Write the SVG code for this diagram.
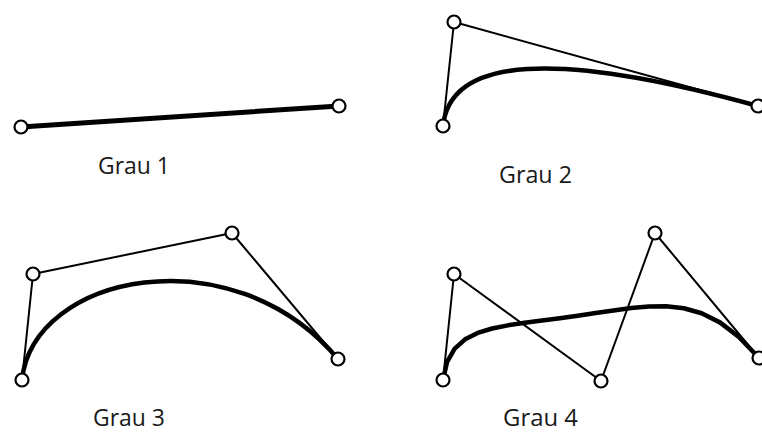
<svg xmlns="http://www.w3.org/2000/svg" width="762" height="432" viewBox="0 0 762 432">
<style>
.bg{fill:#ffffff}
.poly{fill:none;stroke:#000;stroke-width:2;stroke-linejoin:round;stroke-linecap:round}
.curve{fill:none;stroke:#000;stroke-width:4.5;stroke-linejoin:round;stroke-linecap:round}
.pt{fill:#fff;stroke:#000;stroke-width:2.2}
.lbl{font-family:"Open Sans","Liberation Sans",sans-serif;font-size:23px;fill:#1a1a1a}
</style>
<rect class="bg" x="0" y="0" width="762" height="432"/>
<g id="connectors">
  <line class="curve" x1="21" y1="127" x2="339" y2="106" style="stroke-width:5"/>
  <polyline class="poly" points="443,126 454,22 758,106"/>
  <path class="curve" d="M443,126 Q454,22 758,106"/>
  <polyline class="poly" points="22,380 33,274 232,233 338,359"/>
  <path class="curve" d="M22,380 C33,274 232,233 338,359"/>
  <polyline class="poly" points="443,380 454,274 601,381 655,233 759,358"/>
  <polyline class="curve" points="443,380 447.13,361.77 454.68,348.61 465.06,339.34 477.70,332.93 492.14,328.52 507.92,325.34 524.67,322.84 542.06,320.56 559.82,318.25 577.75,315.75 595.68,313.08 613.52,310.41 631.21,308.05 648.77,306.46 666.26,306.27 683.82,308.22 701.61,313.23 719.87,322.37 738.88,336.84 759,358"/>
</g>
<g id="grau1">
  <circle class="pt" cx="21" cy="127" r="6.5"/>
  <circle class="pt" cx="339" cy="106" r="6.5"/>
  <text class="lbl" x="98" y="174" textLength="72" lengthAdjust="spacingAndGlyphs">Grau 1</text>
</g>
<g id="grau2">
  <circle class="pt" cx="443" cy="126" r="6.5"/>
  <circle class="pt" cx="454" cy="22" r="6.5"/>
  <circle class="pt" cx="758" cy="106" r="6.5"/>
  <text class="lbl" x="499" y="183" textLength="73" lengthAdjust="spacingAndGlyphs">Grau 2</text>
</g>
<g id="grau3">
  <circle class="pt" cx="22" cy="380" r="6.5"/>
  <circle class="pt" cx="33" cy="274" r="6.5"/>
  <circle class="pt" cx="232" cy="233" r="6.5"/>
  <circle class="pt" cx="338" cy="359" r="6.5"/>
  <text class="lbl" x="93" y="426" textLength="72" lengthAdjust="spacingAndGlyphs">Grau 3</text>
</g>
<g id="grau4">
  <circle class="pt" cx="443" cy="380" r="6.5"/>
  <circle class="pt" cx="454" cy="274" r="6.5"/>
  <circle class="pt" cx="601" cy="381" r="6.5"/>
  <circle class="pt" cx="655" cy="233" r="6.5"/>
  <circle class="pt" cx="759" cy="358" r="6.5"/>
  <text class="lbl" x="503" y="426" textLength="75" lengthAdjust="spacingAndGlyphs">Grau 4</text>
</g>
</svg>
